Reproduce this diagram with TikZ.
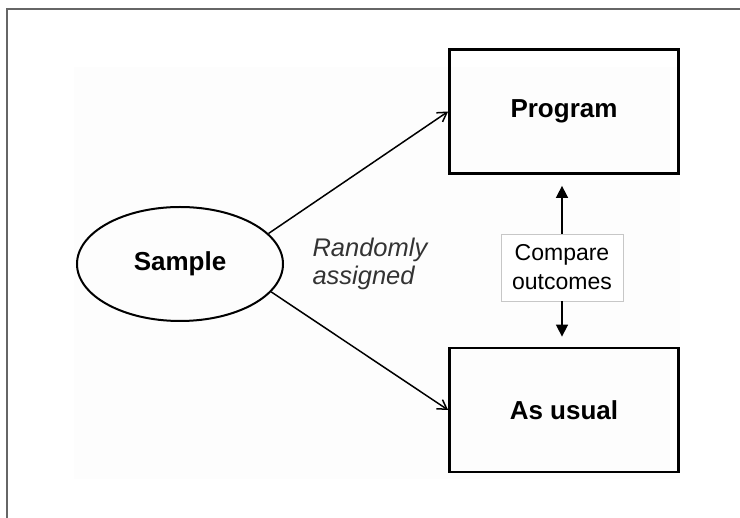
\documentclass[tikz,border=0pt]{standalone}
\usepackage{fontspec}
\setmainfont{Liberation Sans}
\usetikzlibrary{arrows.meta,shapes.geometric,calc}
\definecolor{faintbg}{RGB}{253,253,253}
\begin{document}
\begin{tikzpicture}[x=1pt,y=-1pt,
  boxstyle/.style={draw, line width=2.8pt, minimum width=229pt, minimum height=124pt, inner sep=0pt,
     font=\fontsize{26}{30}\selectfont\bfseries},
  ellstyle/.style={draw, ellipse, line width=2pt, minimum width=206pt, minimum height=114pt, inner sep=0pt,
     font=\fontsize{26}{30}\selectfont\bfseries},
  cmpstyle/.style={draw=black!22, line width=0.8pt, fill=white, minimum width=122pt, minimum height=67pt, inner sep=0pt,
     align=center, font=\fontsize{23}{29}\selectfont},
  diag/.style={line width=1.5pt, -{Straight Barb[length=9pt,width=11pt,line width=1.5pt]}},
  vert/.style={line width=1.6pt, -{Triangle[length=12pt,width=12pt]}},
  framestyle/.style={draw=black!60, line width=1.5pt}
]
\useasboundingbox (0,0) rectangle (740,518);
\fill[faintbg] (74,67) rectangle (680,479);
\draw[framestyle] (7,518) -- (7,9) -- (740,9);

\node[boxstyle] (prog) at (564,111.5) {Program};
\node[boxstyle] (usual) at (564,410) {As usual};
\node[ellstyle] (samp) at (180,264) {Sample};
\node[cmpstyle] (cmp) at (562,267.5) {Compare\\outcomes};
\node[anchor=base west, align=left, text=black!80, font=\fontsize{25.5}{28}\selectfont\itshape] (rand) at (309,285) {Randomly\\assigned};

\draw[diag] (samp.19) -- (prog.west);
\draw[diag] (samp.-17) -- (usual.west);
\draw[vert, shorten >=11pt] (cmp.north) -- (cmp.north |- prog.south);
\draw[vert, shorten >=10pt] (cmp.south) -- (cmp.south |- usual.north);
\end{tikzpicture}
\end{document}
